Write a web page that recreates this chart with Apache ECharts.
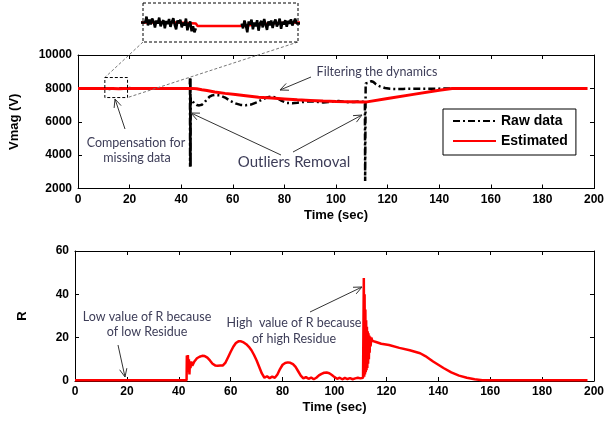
<!DOCTYPE html>
<html>
<head>
<meta charset="utf-8">
<title>Vmag estimation and R</title>
<script src="https://cdn.jsdelivr.net/npm/echarts@6/dist/echarts.min.js"></script>
<style>
  html, body { margin: 0; padding: 0; background: #fff; }
  #chart { width: 607px; height: 426px; }
</style>
</head>
<body>
<div id="chart"></div>
<script>
// ---- axis ticks ----
const timeTicks = [0, 20, 40, 60, 80, 100, 120, 140, 160, 180, 200];
const vmagTicks = [2000, 4000, 6000, 8000, 10000];
const rTicks = [0, 20, 40, 60];

// ---- raw voltage magnitude (V) ----
const rawLeadTime = [0, 10.52];
const rawLeadVmag = [8000, 8000];

// measurement bursts around the missing-data interval (sampled every 0.08 s)
const sampleStep = 0.08;
const burstAStart = 10.6;
const burstA = [8030, 7985, 8015, 7990, 8020, 8005, 7975, 8010, 7995, 8025, 7980, 8000,
  8012, 7970, 8008, 7992, 8018, 7978, 8003, 8022, 7988, 7965, 8010, 7996, 8014, 7975,
  8000, 7985, 8020, 7960, 7990, 8005, 7955, 7980, 7950, 7970];
const gapTime = 14.6;
const burstBStart = 16.0;
const burstB = [7995, 7970, 8010, 7985, 7950, 8005, 7990, 8015, 7965, 8000, 7980, 8012,
  7958, 7995, 8008, 7975, 8018, 7990, 7962, 8006, 7985, 8010, 7972, 8000, 8015, 7980,
  7995, 8020, 7968, 8004, 7990, 8012, 7978, 8008, 7994, 8016, 7985, 8002, 8020, 7995];

const rawTime = [19.2, 43.3, 43.4, 43.45, 43.5, 43.55, 43.6, 43.65, 43.7, 44.2, 45, 46, 47, 48,
  49, 50, 51, 52, 53, 55, 57, 59, 61, 63, 65, 67, 69, 71, 73, 75, 77, 79, 81, 83, 85, 87,
  89, 91, 93, 95, 97, 99, 101, 103, 105, 107, 109, 111.2, 111.3, 111.5, 112, 112.5, 113,
  113.7, 114.5, 115.5, 117, 119, 121, 123, 126, 130, 135, 140, 145, 150];
const rawVmag = [8000, 8000, 8600, 3300, 8600, 3300, 8600, 3300, 7400, 7300, 7100, 7000, 6980, 7020,
  7150, 7350, 7500, 7580, 7600, 7580, 7450, 7250, 7100, 7010, 6990, 7030, 7150, 7300, 7450, 7520,
  7440, 7250, 7130, 7110, 7140, 7180, 7210, 7220, 7190, 7160, 7180, 7220, 7240, 7200, 7170, 7190,
  7210, 7200, 2450, 8300, 8250, 8330, 8390, 8430, 8380, 8250, 8120, 8020, 7975, 7965, 7970, 7975,
  7980, 7985, 7990, 8000];

// ---- estimated voltage magnitude (V) ----
const estTime = [0, 10.6, 12.4, 13.4, 13.5, 15.9, 16.0, 17.8, 19.1, 44, 46, 48, 50, 53, 57, 61,
  65, 70, 75, 80, 85, 90, 95, 100, 105, 110, 112, 120, 130, 140, 145, 147, 197.5];
const estVmag = [8000, 8000, 8000, 7995, 7982, 7982, 7992, 7996, 8000, 8000, 7980, 7920, 7870,
  7780, 7700, 7630, 7560, 7470, 7420, 7370, 7320, 7280, 7240, 7210, 7200, 7190, 7190, 7390, 7640,
  7890, 7990, 8000, 8000];

// ---- R index ----
const rTime = [0, 15, 15.5, 16, 43, 43.1, 43.3, 43.5, 43.7, 43.9, 44.1, 44.3, 44.5, 44.8, 45.2,
  46, 47, 48, 49, 50, 51, 52, 53, 54, 55, 56, 57, 58, 59, 60, 61, 62, 63, 63.5, 64, 65, 66, 67,
  68, 69, 70, 71, 72, 73, 74, 75, 76, 77, 78, 79, 80, 81, 82, 83, 84, 85, 86, 87, 88, 89, 90, 91,
  92, 93, 94, 95, 96, 97, 98, 99, 100, 101, 102, 103, 104, 105, 106, 107, 108, 109, 110, 111,
  111.3, 111.45, 111.6, 111.75, 111.9, 112.05, 112.2, 112.35, 112.5, 112.65, 112.8, 112.95,
  113.1, 113.25, 113.4, 113.55, 113.7, 113.9, 114.2, 114.6, 115, 116, 118, 121, 125, 129, 133,
  135, 138, 140, 142, 145, 148, 151, 154, 157, 197.5];
const rValue = [0.4, 0.4, 0, 0.4, 0.4, 11.8, 4, 12, 5, 10, 3, 9, 6, 9, 7,
  9, 10.5, 11.2, 11.6, 11.5, 10.8, 9.5, 8, 7.2, 7, 7.1, 7.2, 8.5, 11, 13.5, 15.8, 17.5, 18.3, 18.5,
  18.3, 17.8, 17, 15.8, 14.2, 12, 9.5, 6.5, 3.5, 1.5, 2.2, 1.3, 2, 1.5, 3, 5.5, 7.5, 8.3, 8.6, 8.4,
  7.8, 6.5, 4.5, 2.5, 1.2, 1.8, 1, 1.6, 0.8, 1.5, 2.6, 3.3, 3.8, 3.9, 3.6, 2.8, 1.8, 1, 1.5, 0.8,
  1.4, 0.9, 1.3, 0.8, 1.2, 1.5, 1.2, 1.5,
  47.5, 2, 40, 3, 33, 4, 28, 5, 25, 6, 23, 8,
  22, 10, 21, 13, 20.5, 16, 20, 18.5, 19, 18, 17.2, 16.6, 15.3, 14.2, 12.8,
  11.5, 9, 7.5, 6, 4, 2.5, 1.5, 0.8, 0.4, 0.4];

// ---- build series data ----
const zip = (xs, ys) => xs.map((x, i) => [x, ys[i]]);
const burst = (t0, vals) => vals.map((v, i) => [+(t0 + i * sampleStep).toFixed(2), v]);

const rawData = [].concat(
  zip(rawLeadTime, rawLeadVmag),
  burst(burstAStart, burstA),
  [[gapTime, '-']],
  burst(burstBStart, burstB),
  zip(rawTime, rawVmag)
);
const estData = zip(estTime, estVmag);
const rData = zip(rTime, rValue);

// zoomed window shown in the inset
const zoomWin = { t0: 10.4, t1: 19.2, vLow: 7450, vHigh: 8650 };

const BLACK = '#000';
const RED = '#ff0000';
const NOTE = '#3d3d58';
const tickFont = { color: BLACK, fontWeight: 'bold', fontSize: 12, fontFamily: 'Liberation Sans, Arial, sans-serif' };
const nameFont = { color: BLACK, fontWeight: 'bold', fontSize: 13, fontFamily: 'Liberation Sans, Arial, sans-serif' };
const lineAx = { show: true, onZero: false, lineStyle: { color: BLACK, width: 1 } };
const tickIn = { show: true, inside: true, length: 4, lineStyle: { color: BLACK, width: 1 } };
const plain = v => String(v);

function xAxes(gridIndex, withName) {
  const base = {
    type: 'value', gridIndex,
    min: timeTicks[0], max: timeTicks[timeTicks.length - 1],
    interval: timeTicks[1] - timeTicks[0],
    axisLine: lineAx, axisTick: tickIn, splitLine: { show: false }
  };
  return [
    Object.assign({}, base, {
      position: 'bottom',
      axisLabel: Object.assign({ margin: 5, formatter: plain }, tickFont),
      name: withName, nameLocation: 'middle', nameGap: 20, nameTextStyle: nameFont
    }),
    Object.assign({}, base, { position: 'top', axisLabel: { show: false } })
  ];
}
function yAxes(gridIndex, ticks, name, gap) {
  const base = {
    type: 'value', gridIndex,
    min: ticks[0], max: ticks[ticks.length - 1], interval: ticks[1] - ticks[0],
    axisLine: lineAx, axisTick: tickIn, splitLine: { show: false }
  };
  return [
    Object.assign({}, base, {
      position: 'left',
      axisLabel: Object.assign({ margin: 6, formatter: plain }, tickFont),
      name, nameLocation: 'middle', nameGap: gap, nameTextStyle: nameFont
    }),
    Object.assign({}, base, { position: 'right', axisLabel: { show: false } })
  ];
}

const chart = echarts.init(document.getElementById('chart'), null, { renderer: 'canvas' });

const option = {
  animation: false,
  backgroundColor: '#fff',
  grid: [
    { left: 75, top: 55, width: 520, height: 133.5 },
    { left: 75, top: 251, width: 520, height: 130 },
    { left: 143, top: 3, width: 155, height: 39 }
  ],
  xAxis: [].concat(
    xAxes(0, 'Time (sec)'),
    xAxes(1, 'Time (sec)'),
    [{ type: 'value', gridIndex: 2, min: zoomWin.t0, max: zoomWin.t1, show: false }]
  ),
  yAxis: [].concat(
    yAxes(0, vmagTicks, 'Vmag (V)', 57),
    yAxes(1, rTicks, 'R', 46),
    [{ type: 'value', gridIndex: 2, min: 7900, max: 8100, show: false }]
  ),
  legend: {
    orient: 'vertical', left: 443, top: 109,
    data: ['Raw data', 'Estimated'],
    itemWidth: 43, itemHeight: 14, itemGap: 6,
    padding: [5, 8, 7, 9],
    borderColor: BLACK, borderWidth: 1, backgroundColor: '#fff',
    itemStyle: { opacity: 0 },
    textStyle: { color: BLACK, fontWeight: 'bold', fontSize: 14, fontFamily: 'Liberation Sans, Arial, sans-serif' }
  },
  series: [
    {
      name: 'Raw data', type: 'line', xAxisIndex: 0, yAxisIndex: 0,
      data: rawData, showSymbol: false, symbol: 'none', z: 3,
      lineStyle: { color: BLACK, width: 2.5, type: [7, 3, 2, 3] },
      itemStyle: { color: BLACK }
    },
    {
      name: 'Estimated', type: 'line', xAxisIndex: 0, yAxisIndex: 0,
      data: estData, showSymbol: false, symbol: 'none', z: 4,
      lineStyle: { color: RED, width: 3 }, itemStyle: { color: RED }
    },
    {
      name: 'R', type: 'line', xAxisIndex: 2, yAxisIndex: 2,
      data: rData, showSymbol: false, symbol: 'none',
      lineStyle: { color: RED, width: 2.5 }, itemStyle: { color: RED }
    },
    {
      name: 'Estimated (zoom)', type: 'line', xAxisIndex: 4, yAxisIndex: 4,
      data: estData, showSymbol: false, symbol: 'none', z: 3,
      lineStyle: { color: RED, width: 2.5 }
    },
    {
      name: 'Raw (zoom)', type: 'line', xAxisIndex: 4, yAxisIndex: 4,
      data: rawData, showSymbol: false, symbol: 'none', z: 4,
      lineStyle: { color: BLACK, width: 2.5 }
    }
  ]
};
chart.setOption(option);

// ---- annotations ----
function arrow(x1, y1, x2, y2) {
  const a = Math.atan2(y2 - y1, x2 - x1), L = 9, w = 0.42;
  const p1 = [x2 - L * Math.cos(a - w), y2 - L * Math.sin(a - w)];
  const p2 = [x2 - L * Math.cos(a + w), y2 - L * Math.sin(a + w)];
  return [
    { type: 'line', shape: { x1, y1, x2, y2 }, style: { stroke: '#333', lineWidth: 1 }, z: 20 },
    { type: 'polyline', shape: { points: [p1, [x2, y2], p2] }, style: { stroke: '#333', lineWidth: 1, fill: null }, z: 20 }
  ];
}
function note(text, x, y, size) {
  return {
    type: 'text', x, y, z: 20,
    style: {
      text, fill: NOTE, font: (size || 12) + 'px Lato, "Open Sans", sans-serif',
      align: 'center', verticalAlign: 'middle', textAlign: 'center', textVerticalAlign: 'middle'
    }
  };
}

const tl = chart.convertToPixel({ xAxisIndex: 0, yAxisIndex: 0 }, [zoomWin.t0, zoomWin.vHigh]);
const br = chart.convertToPixel({ xAxisIndex: 0, yAxisIndex: 0 }, [zoomWin.t1, zoomWin.vLow]);
const insetGrid = option.grid[2];
const inset = { x: insetGrid.left, y: insetGrid.top, w: insetGrid.width, h: insetGrid.height };
const dashed = { stroke: BLACK, lineWidth: 1, lineDash: [3, 2], fill: null };
const connector = { stroke: '#777', lineWidth: 1, lineDash: [3, 2] };

const graphics = [
  { type: 'rect', shape: { x: inset.x, y: inset.y, width: inset.w, height: inset.h }, style: dashed, z: 20 },
  { type: 'rect', shape: { x: tl[0], y: tl[1], width: br[0] - tl[0], height: br[1] - tl[1] }, style: dashed, z: 20 },
  { type: 'line', shape: { x1: inset.x, y1: inset.y + inset.h, x2: tl[0], y2: tl[1] }, style: connector, z: 19 },
  { type: 'line', shape: { x1: inset.x + inset.w, y1: inset.y + inset.h, x2: br[0], y2: br[1] }, style: connector, z: 19 },

  note('Compensation for', 136, 143, 12.5),
  note('missing data', 137, 158, 12.5),
  note('Outliers Removal', 294, 162, 15),
  note('Filtering the dynamics', 377, 72, 12.5),
  note('Low value of R because', 147, 317, 12.5),
  note('of low Residue', 147, 332, 12.5),
  note('High  value of R because', 294, 323, 12.5),
  note('of high Residue', 294, 339, 12.5)
].concat(
  arrow(125, 129, 115, 99),
  arrow(281, 155, 191, 113),
  arrow(293, 152, 362, 115),
  arrow(311, 77, 280, 90),
  arrow(118, 345, 125, 377),
  arrow(310, 312, 362, 287)
);

chart.setOption({ graphic: graphics });
</script>
</body>
</html>
